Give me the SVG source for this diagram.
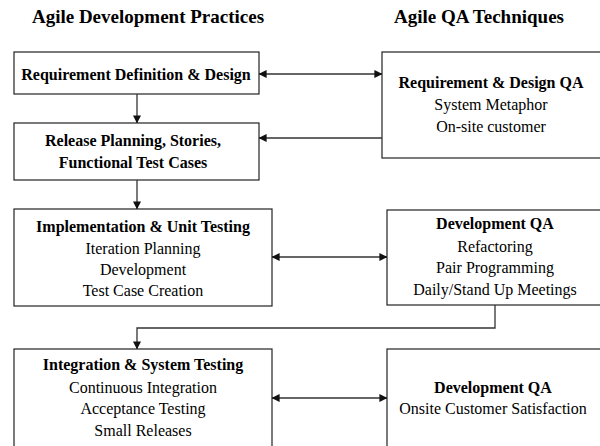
<svg xmlns="http://www.w3.org/2000/svg" width="600" height="446" viewBox="0 0 600 446">
<style>
text{font-family:"Liberation Serif","Times New Roman",serif;fill:#000;text-anchor:middle}
.t{font-size:19px;font-weight:bold}
.b{font-size:16px;font-weight:bold}
.r{font-size:16px}
.box{fill:#fff;stroke:#222;stroke-width:1.2}
.c{fill:none;stroke:#333;stroke-width:1.3}
</style>
<defs>
<marker id="ah" viewBox="0 0 10 10" refX="9.5" refY="5" markerWidth="8" markerHeight="8" markerUnits="userSpaceOnUse" orient="auto-start-reverse">
<path d="M0,0 L10,5 L0,10 z" fill="#111"/>
</marker>
</defs>
<rect width="600" height="446" fill="#fff"/>
<text class="t" x="148" y="23">Agile Development Practices</text>
<text class="t" x="479" y="23">Agile QA Techniques</text>
<g id="n1"><rect class="box" x="14" y="52" width="245" height="42"/><text class="b" x="136" y="80">Requirement Definition &amp; Design</text></g>
<g id="n2"><rect class="box" x="14" y="123" width="245" height="57"/><text class="b" x="133" y="146">Release Planning, Stories,</text><text class="b" x="133" y="168">Functional Test Cases</text></g>
<g id="n3"><rect class="box" x="14" y="209" width="258" height="97"/><text class="b" x="143" y="232">Implementation &amp; Unit Testing</text><text class="r" x="143" y="254">Iteration Planning</text><text class="r" x="143" y="275">Development</text><text class="r" x="143" y="296">Test Case Creation</text></g>
<g id="n4"><rect class="box" x="382" y="52" width="230" height="106"/><text class="b" x="491" y="88">Requirement &amp; Design QA</text><text class="r" x="491" y="110">System Metaphor</text><text class="r" x="491" y="132">On-site customer</text></g>
<g id="n5"><rect class="box" x="387" y="210" width="225" height="95"/><text class="b" x="495" y="229">Development QA</text><text class="r" x="495" y="252">Refactoring</text><text class="r" x="495" y="273">Pair Programming</text><text class="r" x="495" y="295">Daily/Stand Up Meetings</text></g>
<g id="n6"><rect class="box" x="14" y="349" width="258" height="110"/><text class="b" x="143" y="370">Integration &amp; System Testing</text><text class="r" x="143" y="393">Continuous Integration</text><text class="r" x="143" y="414">Acceptance Testing</text><text class="r" x="143" y="436">Small Releases</text></g>
<g id="n7"><rect class="box" x="387" y="349" width="225" height="110"/><text class="b" x="493" y="393">Development QA</text><text class="r" x="493" y="414">Onsite Customer Satisfaction</text></g>
<g id="connectors">
<line class="c" x1="137" y1="94" x2="137" y2="123" marker-end="url(#ah)"/>
<line class="c" x1="137" y1="180" x2="137" y2="209" marker-end="url(#ah)"/>
<line class="c" x1="259" y1="74" x2="382" y2="74" marker-start="url(#ah)" marker-end="url(#ah)"/>
<line class="c" x1="382" y1="138" x2="259" y2="138" marker-end="url(#ah)"/>
<line class="c" x1="272" y1="257" x2="387" y2="257" marker-start="url(#ah)" marker-end="url(#ah)"/>
<polyline class="c" points="495,305 495,328 137,328 137,349" marker-end="url(#ah)"/>
<line class="c" x1="272" y1="398" x2="387" y2="398" marker-start="url(#ah)" marker-end="url(#ah)"/>
</g>
</svg>
